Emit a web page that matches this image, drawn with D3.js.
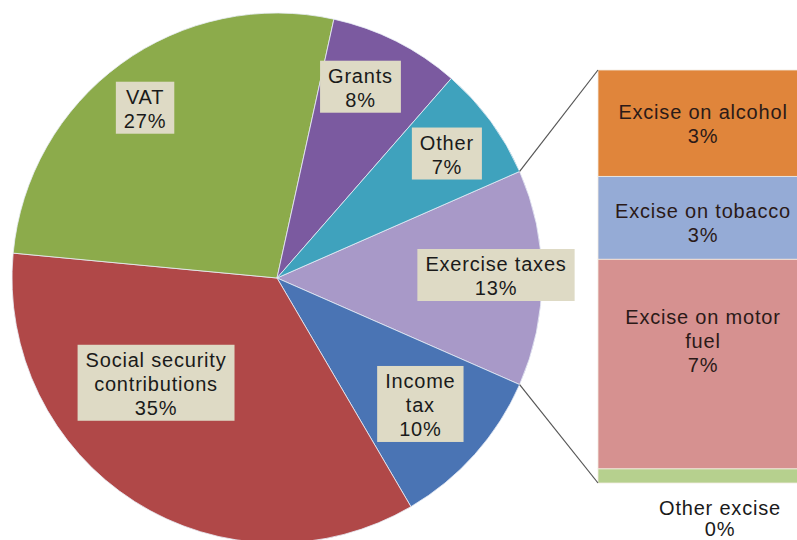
<!DOCTYPE html>
<html>
<head>
<meta charset="utf-8">
<script src="https://cdn.jsdelivr.net/npm/d3@7"></script>
<style>
  body { margin: 0; background: #fff; }
  text { font-family: "Liberation Sans", Arial, sans-serif; font-size: 20px; letter-spacing: 0.8px; }
</style>
</head>
<body>
<div id="chart"></div>
<script>
// pie slices, clockwise starting with the one that is split out
const mainLabels = ['Exercise taxes', 'Income\ntax', 'Social security\ncontributions', 'VAT', 'Grants', 'Other'];
const mainValues = [13.2, 10, 35, 27, 8, 7];
const mainColors = ['#a899c8', '#4a74b4', '#b04848', '#8cab4b', '#7b5aa0', '#3fa2bd'];

// the bar on the right, top to bottom
const exciseLabels = ['Excise on alcohol', 'Excise on tobacco', 'Excise on motor\nfuel', 'Other excise'];
const exciseValues = [3.4, 2.65, 6.7, 0.45];
const exciseColors = ['#e0853b', '#95abd6', '#d69190', '#b6d08e'];

const width = 797, height = 540;
const cx = 277, cy = 278, R = 265;
const total = d3.sum(mainValues);
const fmt = v => Math.round(v / total * 100) + '%';

const svg = d3.select('#chart')
    .append('svg')
    .attr('width', width)
    .attr('height', height);

// pie, the split slice centred on 3 o'clock
const a0 = Math.PI / 2 - Math.PI * mainValues[0] / total;
const pie = d3.pie()
    .sort(null)
    .startAngle(a0)
    .endAngle(a0 + 2 * Math.PI);
const arcs = pie(mainValues);

const arc = d3.arc().innerRadius(0).outerRadius(R);
const labelArc = d3.arc().innerRadius(R * 0.8).outerRadius(R * 0.8);

const g = svg.append('g')
    .attr('transform', `translate(${cx},${cy})`);

g.selectAll('path')
    .data(arcs)
    .enter()
    .append('path')
    .attr('d', arc)
    .attr('fill', (d, i) => mainColors[i])
    .attr('stroke', '#e8eef6')
    .attr('stroke-width', 0.8);

// bar of the split slice
const barX = 598, barW = 210;
const y = d3.scaleLinear()
    .domain([0, d3.sum(exciseValues)])
    .range([70, 483]);
const stacked = d3.cumsum(exciseValues);

svg.selectAll('rect.seg')
    .data(exciseValues)
    .enter()
    .append('rect')
    .attr('class', 'seg')
    .attr('x', barX)
    .attr('width', barW)
    .attr('y', (d, i) => y(stacked[i] - d))
    .attr('height', d => y(d) - y(0))
    .attr('fill', (d, i) => exciseColors[i])
    .attr('stroke', '#f2ece0')
    .attr('stroke-width', 0.8);

// connector lines
const ex = arcs[0];
const pt = a => [cx + R * Math.sin(a), cy - R * Math.cos(a)];
const lines = [[pt(ex.startAngle), [barX, y(0)]], [pt(ex.endAngle), [barX, y(d3.sum(exciseValues))]]];
svg.selectAll('line.conn')
    .data(lines)
    .enter()
    .append('line')
    .attr('class', 'conn')
    .attr('x1', d => d[0][0])
    .attr('y1', d => d[0][1])
    .attr('x2', d => d[1][0])
    .attr('y2', d => d[1][1])
    .attr('stroke', '#555')
    .attr('stroke-width', 1.2);

// multi-line text helper, block centred on (x, yc)
function addText(parent, lines, x, yc, color, lh = 24) {
    const t = parent.append('text')
        .attr('text-anchor', 'middle')
        .attr('fill', color);
    const b0 = yc - lh * (lines.length - 1) / 2 + 7;
    lines.forEach((s, i) => {
        t.append('tspan').attr('x', x).attr('y', b0 + i * lh).text(s);
    });
    return t;
}

// pie labels in beige boxes
const labelNudge = [[7, -2], [-15, -14], [-7, -73], [-7, 2], [-12, -1], [-1, 2]];
arcs.forEach((d, i) => {
    const c = labelArc.centroid(d);
    const lx = cx + c[0] + labelNudge[i][0];
    const ly = cy + c[1] + labelNudge[i][1];
    const lg = svg.append('g');
    const t = addText(lg, mainLabels[i].split('\n').concat([fmt(mainValues[i])]), lx, ly, '#1a1a1a');
    const bb = t.node().getBBox();
    lg.insert('rect', 'text')
        .attr('x', bb.x - 8)
        .attr('y', bb.y - 4)
        .attr('width', bb.width + 16)
        .attr('height', bb.height + 6)
        .attr('fill', '#dedac5');
});

// bar labels
const barShift = [1, 5, -23];
exciseValues.forEach((v, i) => {
    const lines = exciseLabels[i].split('\n').concat([fmt(v)]);
    if (i < 3) {
        const yc = (y(stacked[i] - v) + y(stacked[i])) / 2 + barShift[i];
        addText(svg, lines, barX + barW / 2, yc, '#2b1a18');
    } else {
        // below the bar, kept inside the picture
        addText(svg, lines, barX + barW / 2 + 17, y(stacked[i]) + 35, '#1a1a1a', 21);
    }
});
</script>
</body>
</html>
